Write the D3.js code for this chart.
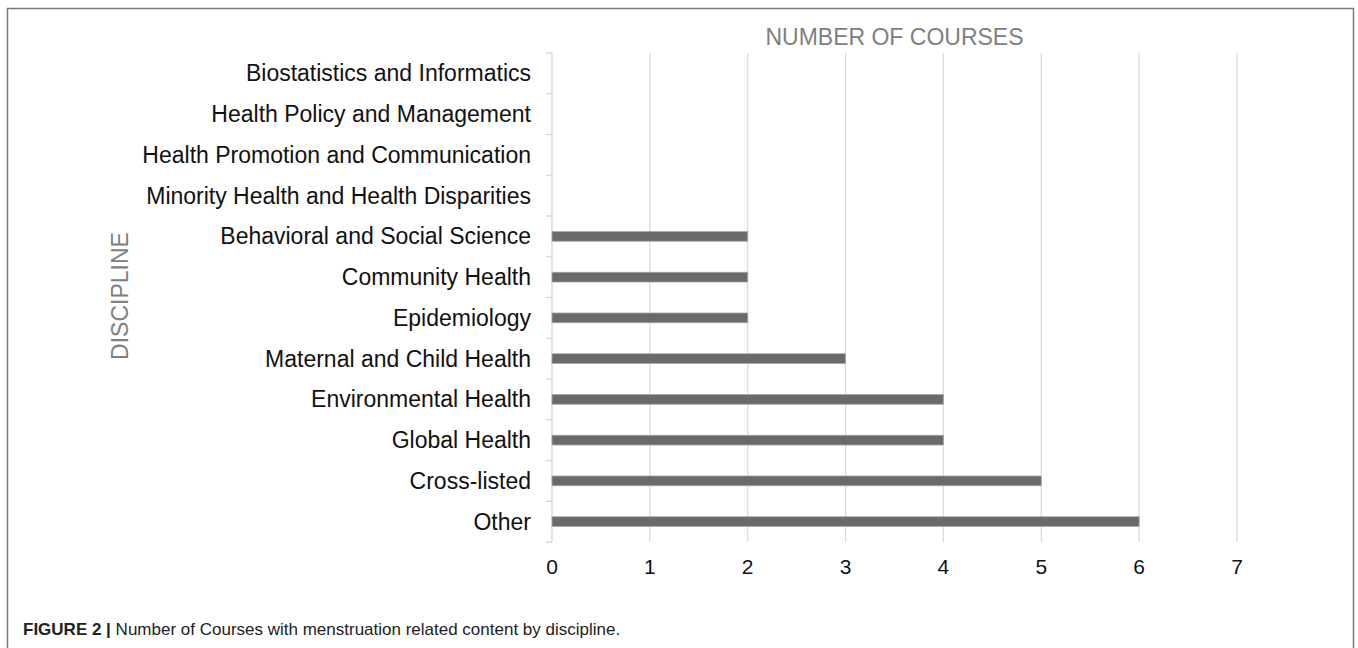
<!DOCTYPE html>
<html>
<head>
<meta charset="utf-8">
<script src="https://cdn.jsdelivr.net/npm/d3@7"></script>
<style>
  body { margin: 0; background: #fff; }
  svg { display: block; font-family: 'Liberation Sans', Arial, sans-serif; }
</style>
</head>
<body>
<div id="chart"></div>
<script>
// categories, top to bottom
const disciplines = [
  'Biostatistics and Informatics',
  'Health Policy and Management',
  'Health Promotion and Communication',
  'Minority Health and Health Disparities',
  'Behavioral and Social Science',
  'Community Health',
  'Epidemiology',
  'Maternal and Child Health',
  'Environmental Health',
  'Global Health',
  'Cross-listed',
  'Other'
]
const courses = [0, 0, 0, 0, 2, 2, 2, 3, 4, 4, 5, 6]
const xTicks = [0, 1, 2, 3, 4, 5, 6, 7]

const W = 1358
const H = 648
const pLeft = 552
const pRight = 1237
const pTop = 53
const pBottom = 542

const svg = d3.select('#chart')
  .append('svg')
  .attr('width', W)
  .attr('height', H)

// frame (open at the bottom, cropped)
svg.append('path')
  .attr('d', `M7.5,${H + 5}V8.5H1353.5V${H + 5}`)
  .attr('fill', 'none')
  .attr('stroke', '#7a7a7a')
  .attr('stroke-width', 1.5)

const data = disciplines.map((d, i) => ({ name: d, value: courses[i] }))

let x = d3.scaleLinear().domain([0, 7]).range([pLeft, pRight])
let y = d3.scaleBand().domain(disciplines).range([pTop, pBottom])
  .paddingInner(0.76).paddingOuter(0.38)

let g = svg.append('g')

// gridlines
g.selectAll('.grid')
  .data(xTicks.filter((t) => t > 0))
  .enter()
  .append('line')
  .attr('x1', (d) => x(d))
  .attr('x2', (d) => x(d))
  .attr('y1', pTop)
  .attr('y2', pBottom)
  .attr('stroke', '#d9d9d9')
  .attr('stroke-width', 1.2)

// y axis line with ticks between categories
let step = y.step()
g.append('line')
  .attr('x1', pLeft).attr('x2', pLeft)
  .attr('y1', pTop).attr('y2', pBottom)
  .attr('stroke', '#d3d3d3')
  .attr('stroke-width', 1.2)
g.selectAll('.ytick')
  .data(d3.range(disciplines.length + 1))
  .enter()
  .append('line')
  .attr('x1', pLeft - 6).attr('x2', pLeft)
  .attr('y1', (i) => pTop + i * step)
  .attr('y2', (i) => pTop + i * step)
  .attr('stroke', '#d3d3d3')
  .attr('stroke-width', 1.2)

// bars
g.selectAll('.bar')
  .data(data.filter((d) => d.value > 0))
  .enter()
  .append('rect')
  .attr('x', x(0))
  .attr('y', (d) => y(d.name))
  .attr('width', (d) => x(d.value) - x(0))
  .attr('height', y.bandwidth())
  .attr('fill', '#696a6d')
  .attr('stroke', '#a8a8a8')
  .attr('stroke-width', 0.8)

// category labels
g.selectAll('.cat')
  .data(disciplines)
  .enter()
  .append('text')
  .attr('x', 531)
  .attr('y', (d) => y(d) + y.bandwidth() / 2)
  .attr('dy', '0.35em')
  .attr('text-anchor', 'end')
  .style('font-size', '23px')
  .attr('fill', '#111')
  .text((d) => d)

// x tick labels
g.selectAll('.xlab')
  .data(xTicks)
  .enter()
  .append('text')
  .attr('x', (d) => x(d))
  .attr('y', 567)
  .attr('dy', '0.35em')
  .attr('text-anchor', 'middle')
  .style('font-size', '21px')
  .attr('fill', '#111')
  .text((d) => d)

// axis titles
svg.append('text')
  .attr('x', (pLeft + pRight) / 2)
  .attr('y', 37)
  .attr('dy', '0.35em')
  .attr('text-anchor', 'middle')
  .style('font-size', '23px')
  .attr('fill', '#808080')
  .text('NUMBER OF COURSES')

svg.append('text')
  .attr('transform', 'translate(120,296) rotate(-90)')
  .attr('dy', '0.35em')
  .attr('text-anchor', 'middle')
  .style('font-size', '23px')
  .attr('fill', '#808080')
  .text('DISCIPLINE')

// caption
let cap = svg.append('text')
  .attr('x', 23)
  .attr('y', 635)
  .style('font-size', '17px')
  .attr('fill', '#222')
cap.append('tspan').attr('font-weight', 'bold').text('FIGURE 2 | ')
cap.append('tspan').text('Number of Courses with menstruation related content by discipline.')
</script>
</body>
</html>
